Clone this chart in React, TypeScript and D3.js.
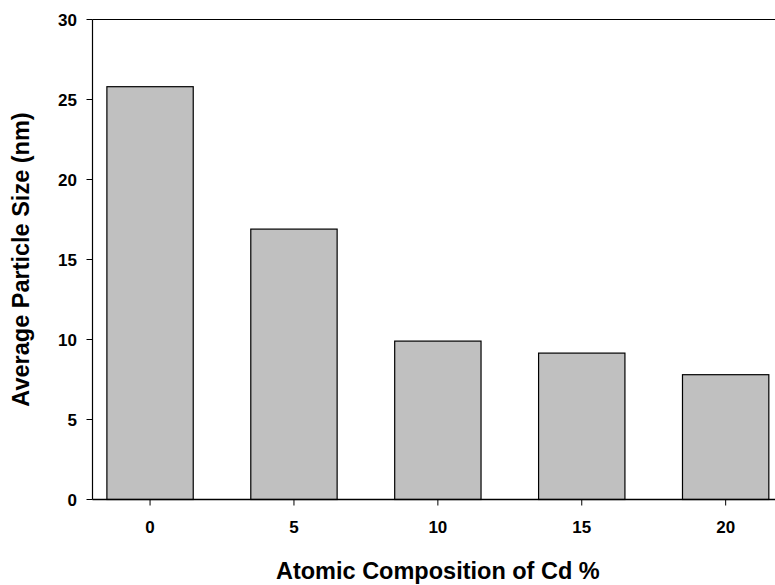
import React from "react";
import * as d3 from "d3";

const categories = [0, 5, 10, 15, 20];
const values = [25.8, 16.9, 9.9, 9.15, 7.8];
const yTicks = [0, 5, 10, 15, 20, 25, 30];
const xTitle = "Atomic Composition of Cd %";
const yTitle = "Average Particle Size (nm)";

export default function App() {
  const W = 775, H = 585;
  const x = d3.scaleLinear().domain([-2, 22]).range([92.5, 92.5 + 24 * 28.78]);
  const y = d3.scaleLinear().domain([0, 30]).range([499.5, 19.5]);
  const halfW = 1.5;
  const font = "Arial, 'Liberation Sans', Helvetica, sans-serif";
  return (
    <svg width={W} height={H} style={{ position: "absolute", left: 0, top: 0, overflow: "hidden" }} fontFamily={font}>
      <rect width={W} height={H} fill="#fff" />
      {categories.map((c, i) => (
        <rect key={c} x={x(c - halfW)} y={y(values[i])} width={x(c + halfW) - x(c - halfW)} height={y(0) - y(values[i])}
          fill="#c0c0c0" stroke="#000" strokeWidth={1.2} />
      ))}
      <line x1={x(-2)} x2={W + 10} y1={y(0)} y2={y(0)} stroke="#000" strokeWidth={1.5} />
      <line x1={x(-2)} x2={W + 10} y1={y(30)} y2={y(30)} stroke="#000" strokeWidth={1.2} />
      <line x1={x(-2)} x2={x(-2)} y1={y(0)} y2={y(30)} stroke="#000" strokeWidth={1.2} />
      {yTicks.map(t => (
        <g key={t}>
          <line x1={x(-2) - 6} x2={x(-2)} y1={y(t)} y2={y(t)} stroke="#000" strokeWidth={1} />
          <text x={77} y={y(t)} dy="0.36em" textAnchor="end" fontSize={17} fontWeight="bold">{t}</text>
        </g>
      ))}
      {categories.map(c => (
        <g key={c}>
          <line x1={x(c)} x2={x(c)} y1={y(0)} y2={y(0) + 6} stroke="#000" strokeWidth={1} />
          <text x={x(c)} y={533} textAnchor="middle" fontSize={17} fontWeight="bold">{c}</text>
        </g>
      ))}
      <text x={x(10)} y={579} textAnchor="middle" fontSize={23.5} fontWeight="bold">{xTitle}</text>
      <text transform={`translate(28.5, ${y(15)}) rotate(-90)`} textAnchor="middle" fontSize={23.5} fontWeight="bold">{yTitle}</text>
    </svg>
  );
}
